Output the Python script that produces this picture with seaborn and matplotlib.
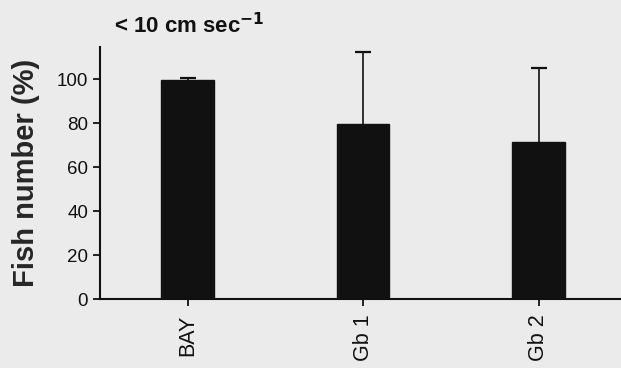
import matplotlib
matplotlib.use("Agg")
import matplotlib.pyplot as plt
import seaborn as sns
import pandas as pd

sites = ["BAY", "Gb 1", "Gb 2"]
fish_pct = [99.5, 79.5, 71.5]
err_upper = [1.0, 33.0, 33.5]
yticks = [0, 20, 40, 60, 80, 100]

sns.set_theme(style="ticks")
plt.rcParams['font.family'] = ['Liberation Sans', 'DejaVu Sans']

bg = "#ebebeb"
ink = "#111111"
fig = plt.figure(figsize=(6.21, 3.68), dpi=100, facecolor=bg)
ax = fig.add_axes([0.161, 0.1875, 0.839, 0.6845])
ax.set_facecolor(bg)

df = pd.DataFrame({"site": sites, "pct": fish_pct})
sns.barplot(data=df, x="site", y="pct", color=ink, width=0.3,
            saturation=1, ax=ax, errorbar=None, edgecolor=ink)
xs = list(range(len(sites)))
tops = [v + e for v, e in zip(fish_pct, err_upper)]
ax.vlines(xs, fish_pct, tops, colors=ink, linewidth=1.2, zorder=3)
ax.scatter(xs, tops, marker="_", s=120, color=ink, linewidths=1.6, zorder=3)

ax.set_xlim(-0.5, 2.47)
ax.set_ylim(0, 114.5)
ax.set_yticks(yticks)
ax.set_yticklabels([str(t) for t in yticks], fontsize=13.5)
ax.set_xticks(xs)
ax.set_xticklabels(sites, rotation=90, fontsize=15.5)
ax.set_xlabel("")
ax.set_ylabel("Fish number (%)", fontsize=21, fontweight="bold", labelpad=12)
sns.despine(ax=ax)
for s in ["left", "bottom"]:
    ax.spines[s].set_linewidth(1.5)
    ax.spines[s].set_color(ink)
ax.tick_params(axis="both", length=5, width=1.3, color=ink, labelcolor=ink)
ax.tick_params(axis="x", pad=6)

ax.text(0.01, 118.5, r"< 10 cm sec$^{\mathbf{-1}}$", ha="center", va="bottom",
        fontsize=16, fontweight="bold", color=ink)

fig.savefig("out.png", dpi=100, facecolor=bg)
